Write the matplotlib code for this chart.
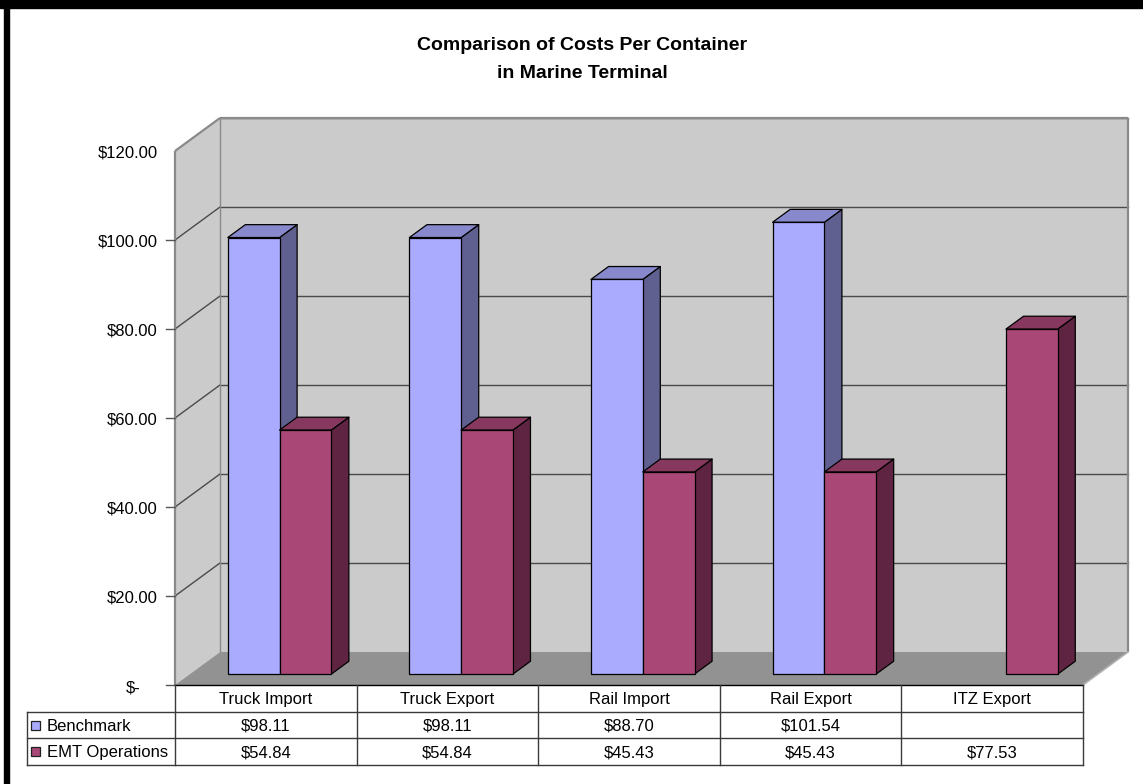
import matplotlib
matplotlib.use("Agg")
import matplotlib.pyplot as plt
from matplotlib.patches import Polygon, Rectangle
from matplotlib import transforms as mtransforms

plt.rcParams['font.family'] = ['Liberation Sans', 'DejaVu Sans']

# ---- data ----
categories = ["Truck Import", "Truck Export", "Rail Import", "Rail Export", "ITZ Export"]
benchmark = [98.11, 98.11, 88.70, 101.54, None]
emt_ops = [54.84, 54.84, 45.43, 45.43, 77.53]
series_names = ["Benchmark", "EMT Operations"]
tick_values = [0, 20, 40, 60, 80, 100, 120]
tick_labels = ["$-", "$20.00", "$40.00", "$60.00", "$80.00", "$100.00", "$120.00"]
title_lines = ["Comparison of Costs Per Container", "in Marine Terminal"]

# ---- styles ----
front_cols = ['#AAAAFF', '#A94776']
top_cols = ['#8888CC', '#87385E']
side_cols = ['#606090', '#5F2442']
wall_col = '#CBCBCB'
floor_col = '#929292'
grid_col = '#4A4A4A'
edge_gray = '#8A8A8A'
table_line = '#3A3A3A'

W, H = 1143, 784
fig = plt.figure(figsize=(W / 100, H / 100), dpi=100)
fig.patch.set_facecolor('white')

# black frame pieces (top band and left stripe)
fig.add_artist(Rectangle((0, 1 - 8 / H), 1, 8 / H, transform=fig.transFigure,
                         color='black', zorder=10))
fig.add_artist(Rectangle((4 / W, 0), 4.5 / W, 1, transform=fig.transFigure,
                         color='black', zorder=10))

# main axes = front plane of the 3D box
x0px, x1px, y0px, y1px = 175, 1083, 685, 151
ax = fig.add_axes([x0px / W, (H - y0px) / H, (x1px - x0px) / W, (y0px - y1px) / H])
ncat = len(categories)
ymax = 120
ax.set_xlim(0, ncat)
ax.set_ylim(0, ymax)
ax.axis('off')

# depth vector in data units
px_per_cat = (x1px - x0px) / ncat
px_per_val = (y0px - y1px) / ymax
DX = 45 / px_per_cat
DY = 33 / px_per_val

# walls and floor
ax.add_patch(Polygon([(DX, DY), (ncat + DX, DY), (ncat + DX, ymax + DY), (DX, ymax + DY)],
                     closed=True, facecolor=wall_col, edgecolor='none', zorder=1, clip_on=False))
ax.add_patch(Polygon([(0, 0), (DX, DY), (DX, ymax + DY), (0, ymax)],
                     closed=True, facecolor=wall_col, edgecolor='none', zorder=1, clip_on=False))
ax.add_patch(Polygon([(0, 0), (ncat, 0), (ncat + DX, DY), (DX, DY)],
                     closed=True, facecolor=floor_col, edgecolor='none', zorder=2, clip_on=False))

# gridlines
for v in tick_values[1:]:
    ax.plot([DX, ncat + DX], [v + DY, v + DY], color=grid_col, lw=1.0, zorder=1.5, clip_on=False)
    if v < ymax:
        ax.plot([0, DX], [v, v + DY], color=grid_col, lw=1.0, zorder=1.5, clip_on=False)

# wall edges
edge_kw = dict(color=edge_gray, lw=1.6, zorder=1.6, clip_on=False, solid_capstyle='butt')
ax.plot([0, 0], [0, ymax], **edge_kw)
ax.plot([0, DX], [ymax, ymax + DY], **edge_kw)
ax.plot([DX, ncat + DX], [ymax + DY, ymax + DY], **edge_kw)
ax.plot([ncat + DX, ncat + DX], [DY, ymax + DY], **edge_kw)
ax.plot([DX, DX], [DY, ymax + DY], color=edge_gray, lw=1.0, zorder=1.6, clip_on=False)
ax.plot([ncat, ncat + DX], [0, DY], color='#B0B0B0', lw=1.2, zorder=2.1, clip_on=False)

# tick marks on the front edge
for v in tick_values[:-1]:
    ax.plot([-9 / px_per_cat, 0], [v, v], color='#555555', lw=1.0, zorder=2, clip_on=False)

# tick labels
lab_tr = mtransforms.offset_copy(ax.get_yaxis_transform(), fig=fig, x=-17, y=-2, units='dots')
lab_tr0 = mtransforms.offset_copy(ax.get_yaxis_transform(), fig=fig, x=-34, y=-3, units='dots')
for v, lab in zip(tick_values, tick_labels):
    ax.text(0, v, lab, transform=lab_tr0 if v == 0 else lab_tr, ha='right', va='center',
            fontsize=12, color='black')

# 3D bars
f0, f1 = 0.33, 0.72
bw = 0.285
pair_center = 0.494
for i in range(ncat):
    for s, vals in enumerate([benchmark, emt_ops]):
        v = vals[i]
        if v is None:
            continue
        xl = i + pair_center - bw + s * bw
        xr = xl + bw
        ox0, oy0 = f0 * DX, f0 * DY
        ox1, oy1 = f1 * DX, f1 * DY
        z = 3 + i * 2 + s * 0.5
        # side face
        ax.add_patch(Polygon([(xr + ox0, oy0), (xr + ox1, oy1), (xr + ox1, v + oy1), (xr + ox0, v + oy0)],
                             closed=True, facecolor=side_cols[s], edgecolor='black', lw=0.9,
                             zorder=z, clip_on=False, joinstyle='round'))
        # top face
        ax.add_patch(Polygon([(xl + ox0, v + oy0), (xr + ox0, v + oy0), (xr + ox1, v + oy1), (xl + ox1, v + oy1)],
                             closed=True, facecolor=top_cols[s], edgecolor='black', lw=0.9,
                             zorder=z, clip_on=False, joinstyle='round'))
        # front face
        ax.bar(xl + ox0, v, width=bw, bottom=oy0, align='edge', color=front_cols[s],
               edgecolor='black', linewidth=0.9, zorder=z + 0.1, clip_on=False)

# ---- data table ----
label_w_px = x0px - 27
tax = fig.add_axes([27 / W, (H - 765) / H, (x1px - 27) / W, (765 - y0px) / H])
xmin = -label_w_px / px_per_cat
tax.set_xlim(xmin, ncat)
tax.set_ylim(3, 0)
tax.axis('off')
lk = dict(color=table_line, lw=1.0, clip_on=False, solid_capstyle='projecting')
tax.plot([0, ncat], [0, 0], color='black', lw=1.0, clip_on=False)
for r in (1, 2, 3):
    tax.plot([xmin, ncat], [r, r], **lk)
tax.plot([xmin, xmin], [1, 3], **lk)
for c in range(ncat + 1):
    tax.plot([c, c], [0, 3], **lk)

for i, cat in enumerate(categories):
    tax.text(i + 0.5, 0.55, cat, ha='center', va='center', fontsize=12)
for r, vals in enumerate([benchmark, emt_ops], start=1):
    for i, v in enumerate(vals):
        if v is None:
            continue
        tax.text(i + 0.5, r + 0.55, f"${v:,.2f}", ha='center', va='center', fontsize=12)
    # legend key
    kw = 9 / px_per_cat
    kh = 9 / ((765 - y0px) / 3)
    tax.add_patch(Rectangle((xmin + 4 / px_per_cat, r + 0.5 - kh / 2), kw, kh,
                            facecolor=front_cols[r - 1], edgecolor='#222222', lw=0.9, clip_on=False))
    tax.text(xmin + 20 / px_per_cat, r + 0.55, series_names[r - 1], ha='left', va='center', fontsize=12)

# title
fig.text(582 / W, 1 - 46 / H, title_lines[0], ha='center', va='center', fontsize=14, fontweight='bold')
fig.text(582 / W, 1 - 73 / H, title_lines[1], ha='center', va='center', fontsize=14, fontweight='bold')

fig.savefig('out.png', dpi=100, facecolor='white')
